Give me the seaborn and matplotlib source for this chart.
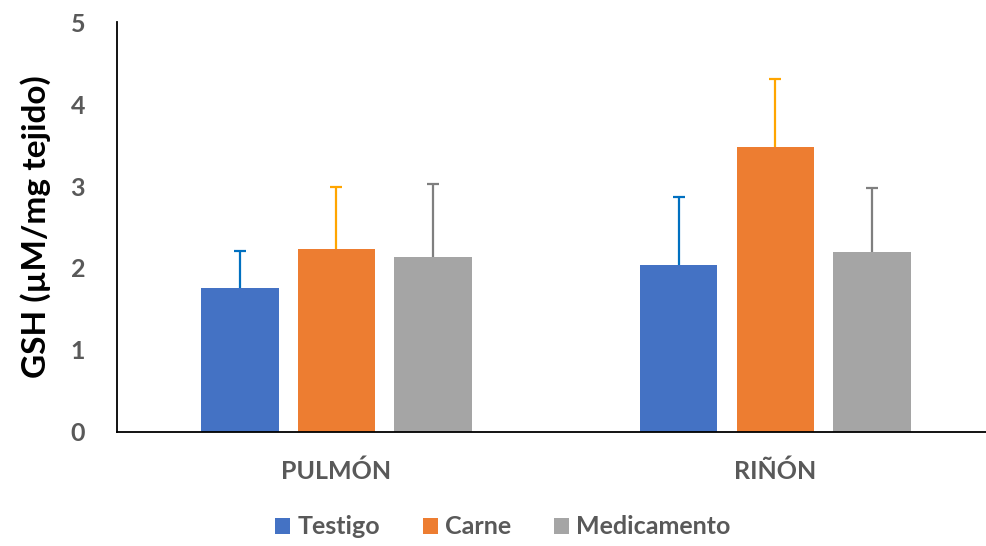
import matplotlib
matplotlib.use("Agg")
import matplotlib.pyplot as plt
import seaborn as sns
import pandas as pd
import numpy as np

# Data
organs = ["PULMÓN", "RIÑÓN"]
groups = ["Testigo", "Carne", "Medicamento"]
testigo = [1.76, 2.04]
carne = [2.23, 3.48]
medicamento = [2.13, 2.19]
testigo_err = [0.45, 0.82]
carne_err = [0.76, 0.82]
medicamento_err = [0.90, 0.79]

bar_colors = ["#4472C4", "#ED7D31", "#A5A5A5"]
err_colors = ["#0070C0", "#FFA500", "#7F7F7F"]

df = pd.DataFrame({
    "organ": organs * 3,
    "group": [g for g in groups for _ in organs],
    "value": testigo + carne + medicamento,
})
errs = [testigo_err, carne_err, medicamento_err]

sns.set_theme(style="white")
plt.rcParams["font.family"] = ["Lato", "DejaVu Sans"]

fig = plt.figure(figsize=(9.86, 5.46), dpi=100)
ax = fig.add_axes([0.1187, 0.2088, 0.8813, 0.7509])

sns.barplot(data=df, x="organ", y="value", hue="group", order=organs,
            hue_order=groups, palette=bar_colors, saturation=1,
            width=0.66, gap=0.2, errorbar=None, linewidth=0, ax=ax)

# Upper-only error bars over each bar
for container, err, col in zip(ax.containers, errs, err_colors):
    xs = [p.get_x() + p.get_width() / 2 for p in container]
    hs = [p.get_height() for p in container]
    _, caps, _ = ax.errorbar(xs, hs, yerr=[np.zeros(len(err)), err],
                             fmt="none", ecolor=col, elinewidth=1.6,
                             capsize=4.5, capthick=1.6, zorder=0.5)
    # hide the caps sitting on the bar tops (zero lower error)
    for cap in caps:
        if np.allclose(np.asarray(cap.get_ydata(), float), hs):
            cap.set_visible(False)

ax.set_ylim(0, 5)
ax.set_xlim(-0.5, 1.48)
ax.set_yticks(range(0, 6))
ax.tick_params(axis="y", length=0, pad=23, labelsize=18, labelcolor="#595959")
ax.tick_params(axis="x", length=0, pad=20, labelsize=18, labelcolor="#595959")
for lbl in ax.get_yticklabels() + ax.get_xticklabels():
    lbl.set_fontweight("bold")

ax.set_xlabel("")
ax.set_ylabel("GSH (µM/mg tejido)", fontsize=24, fontweight="bold",
              color="black", labelpad=14)

sns.despine(ax=ax, top=True, right=True)
ax.spines["left"].set_color("black")
ax.spines["bottom"].set_color("black")
ax.spines["left"].set_linewidth(1.3)
ax.spines["bottom"].set_linewidth(1.3)

handles, labels = ax.get_legend_handles_labels()
ax.legend(handles, labels, loc="center", bbox_to_anchor=(0.51, 0.035),
          bbox_transform=fig.transFigure, ncol=3, frameon=False,
          handlelength=0.6, handleheight=0.6, handletextpad=0.3,
          columnspacing=1.7, prop={"weight": "bold", "size": 18})
for t in ax.get_legend().get_texts():
    t.set_color("#595959")

fig.savefig("out.png", dpi=100)
